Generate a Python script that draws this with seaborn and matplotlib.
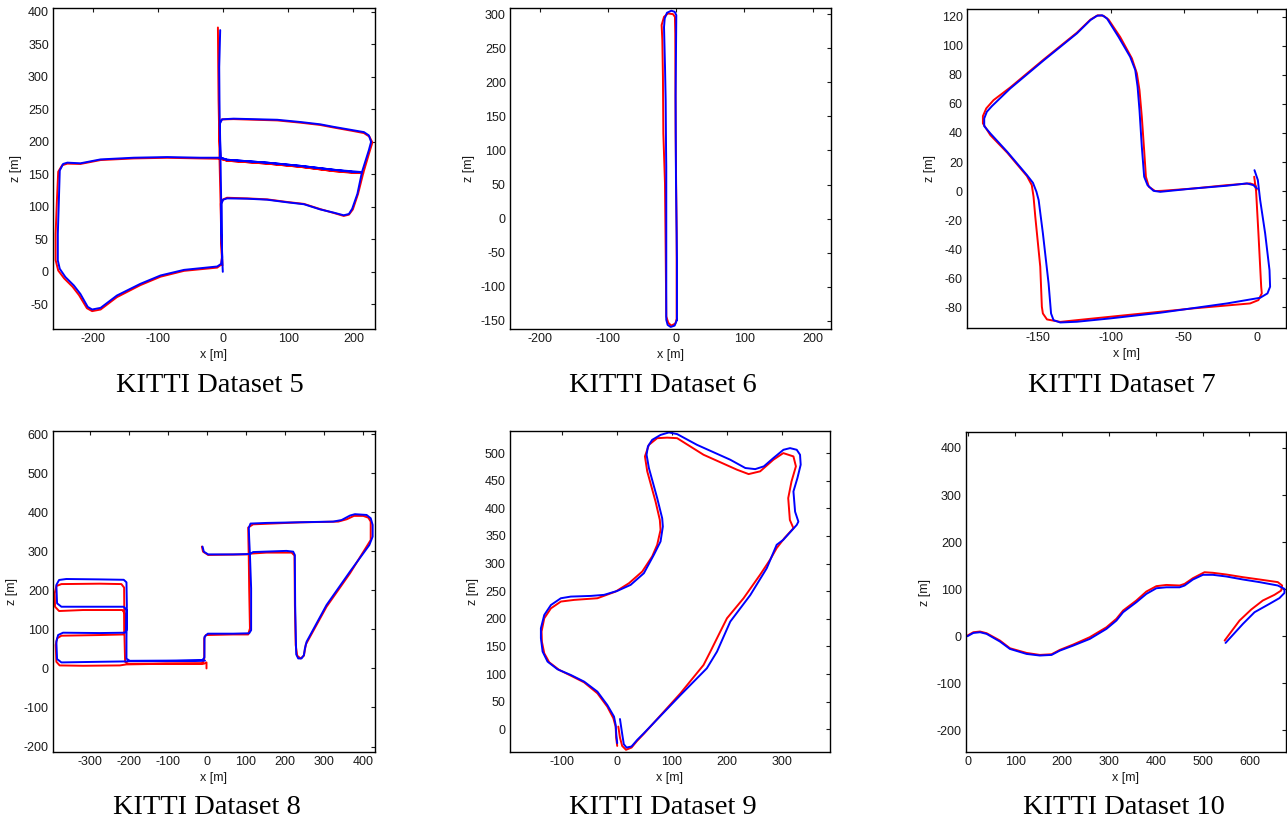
import pandas as pd
import matplotlib
matplotlib.use('Agg')
import matplotlib.pyplot as plt
import seaborn as sns

# ---- KITTI 05 ----
d5_blue_x = [-0.5, -1, -2.5, -2.5, 0, 6, 37, 67.5, 98, 124, 149, 170, 185, 193, 198, 206, 213, 200.5, 170, 119, 67.5, 6, -4, -35, -86, -137, -188, -219, -239, -245.5, -250.6, -252, -253.6, -253.6, -250.6, -242, -229, -219, -207.7, -201, -188, -163, -127, -96, -60, -9, -3, -1.5, -2.5, -3, -4, -5, -1.5, 16, 83, 119, 149, 170, 200.5, 216, 223.5, 227, 223.5, 213, 170, 119, 67.5, 6, -4, -5, -5.6, -6, -4.5]
d5_blue_z = [0, 12, 58.5, 105, 111, 113, 112.5, 111, 107, 104, 96, 91, 87, 89, 97, 120, 153.5, 153.5, 157, 163, 168, 172.5, 175.6, 175.6, 176.6, 175.6, 173, 167, 168, 166, 156, 110, 58.5, 17.5, 4.6, -8, -21, -34, -54, -58, -55.5, -36.5, -18.5, -5.6, 3, 8.2, 12.3, 22.6, 58.5, 110, 171.5, 228, 234.7, 235.7, 234, 230.5, 227, 223, 217.7, 215, 210, 200, 187, 153.5, 157, 163, 168, 172.5, 175.6, 212.6, 264, 315, 372]
d5_red_x = [-1, -2, -3, -3.5, 0, 6, 37, 67.5, 98, 124, 149, 170, 185, 193, 199, 207, 215, 200.5, 170, 119, 67.5, 6, -4, -35, -86, -137, -188, -219, -239, -247, -253, -255, -257, -257, -253, -244, -231, -221, -209, -201, -188, -163, -127, -96, -60, -9, -3, -2, -3, -4, -5.5, -6, -2, 16, 83, 119, 149, 170, 200.5, 216, 224.5, 229, 225, 215, 170, 119, 67.5, 6, -4, -6, -7, -7.5, -8]
d5_red_z = [10, 30, 60, 105, 111.5, 114, 113, 111.5, 107.5, 104.5, 96.5, 90.5, 86, 88, 96, 120, 152, 152, 155, 161.5, 166.5, 171, 174, 174.5, 175.5, 174.5, 172, 166, 166.5, 164, 154, 110, 58, 18, 2, -10, -23, -36, -56, -60.5, -58, -39, -20.5, -7.5, 1.5, 6.5, 11, 22, 58.5, 110, 171.5, 228, 234.5, 235, 233, 229.5, 226, 222, 216.5, 213.5, 208, 199, 186, 152, 155, 161.5, 166.5, 171, 174, 212, 264, 315, 376]

# ---- KITTI 06 ----
d6_blue_x = [1, 1, -0.5, -1, 0, -2.4, -7.3, -13.7, -17, -18, -16.5, -15.6, -15, -14.7, -14.7, -14.7, -12.7, -8.3, -2.4, 1]
d6_blue_z = [-148.5, -60, 60, 180, 298.5, 303.4, 305, 302, 293.6, 281, 220, 174, 100, 76, -46, -148.5, -156, -159, -157, -148.5]
d6_red_x = [0.5, 0.5, -1, -1.5, -2, -4.9, -12.2, -18, -21.5, -20.5, -19.6, -19, -16.6, -15.6, -14.7, -11.7, -7.3, -1.5, 0.5]
d6_red_z = [-148.5, -21.5, 125, 271.6, 296, 300, 301, 296, 284, 262, 208, 125, 52, -46, -143.6, -153, -157, -154, -148.5]

# ---- KITTI 07 ----
d7_blue_x = [-1.6, 0.7, 2.3, 5.7, 8.7, 9.1, 7.3, 2.3, -20.5, -66.2, -100.5, -123.3, -134.7, -139.3, -141, -142.7, -146.6, -149.5, -151, -153.4, -157.5, -171, -182.6, -186.8, -186.8, -185, -181.5, -169, -146, -123.3, -114, -109.6, -106, -102.7, -94.7, -86.8, -83.3, -81.7, -80.4, -78.8, -77.2, -74.9, -70.8, -66.2, -43.4, -20.5, -6.8, -2.3, 0]
d7_blue_z = [14.4, 7.6, -6.2, -29, -54.4, -65.8, -70.4, -73.4, -77.3, -83.7, -87.6, -89.9, -90.4, -88.8, -84.2, -63.5, -29, -6.2, -0.5, 5.7, 11, 27, 39.7, 44.7, 50, 54.6, 58.5, 70.6, 90, 108.5, 117.7, 120.6, 121, 118.8, 106, 92.4, 83.3, 71.8, 55.7, 30.5, 9.9, 4.1, 0.2, -0.5, 1.8, 3.7, 5.3, 4.1, 1.8]
d7_red_x = [-1.8, -0.5, 1.1, 3, 3.4, 1.1, -4.6, -43.4, -89, -123.3, -134.7, -143.8, -146.6, -147.3, -148.4, -151.8, -153, -154.2, -157.5, -171, -182.6, -187.7, -187.7, -185.4, -180.4, -169, -146, -123.3, -114, -109, -105, -101.6, -93.6, -85.6, -82.2, -80.4, -78.8, -77.2, -76, -74, -69.6, -65, -43.4, -20.5, -4.6, -1.1, 0]
d7_red_z = [9.9, 0, -29, -65.8, -70.4, -75, -77.3, -80.7, -85.3, -88.8, -90, -88.3, -84.2, -79.6, -52, -17.7, -3.9, 4.1, 10.3, 26.4, 38.5, 46.6, 51.6, 56.9, 62.6, 71.3, 90.6, 109, 118, 121, 120.6, 118, 106, 91.3, 81, 69.5, 51, 28, 9.9, 3, 0, 0.2, 1.8, 4.1, 5.3, 4.1, 1]

# ---- KITTI 08 ----
d8_blue_x = [-5, -103.6, -197.5, -206, -274.5, -372.5, -383.6, -385.4, -381, -368.3, -274.5, -210.5, -206, -206, -213, -300, -372.5, -383.6, -385.4, -378.5, -360, -274.5, -213, -206, -205, -206, -206, -197.5, -103.6, -12, -6.5, -6.3, 2, 67, 108, 113, 113, 110, 108, 107, 111.5, 152.5, 323, 344.5, 366, 378.7, 408.5, 419, 424, 424, 415.5, 366, 306, 255, 250.6, 248, 242, 233.5, 228.4, 227.5, 225.7, 224.8, 220.6, 203.5, 118, 110, 67, 3, -8, -11.4]
d8_blue_z = [20, 18.8, 18.8, 18, 17, 15.4, 24, 68.4, 85.5, 91.5, 90.6, 91.5, 98, 149.6, 158, 158, 158, 166.7, 213.7, 226.5, 229, 228, 227, 220.5, 162, 77, 25, 19.5, 20, 21, 28, 81, 89, 89, 90, 98, 205, 290, 333, 360, 371, 372.6, 376, 380, 391.5, 395, 393, 384.6, 367.5, 337.6, 316, 248, 162.4, 68.4, 51, 34, 25.6, 25.6, 36, 77, 162, 290.6, 299, 301, 298, 293, 292, 292, 299, 312]
d8_red_x = [-1.2, -1.2, -8, -103.6, -206, -223, -317, -377, -385.4, -387, -383.6, -372.5, -274.5, -214.6, -210.5, -210.5, -216.5, -317, -378.5, -388.8, -389.7, -385.4, -372.5, -274.5, -219, -212, -211, -209.5, -202, -103.6, -12, -7, -7, -2.9, 67, 105.5, 110, 108, 107, 106, 105.5, 118, 238, 336, 357.6, 376, 400, 413, 419, 419, 408.5, 366, 306, 253, 248, 239.6, 231, 227, 225, 224, 216.6, 152.5, 111.5, 101, 67, 3, -10, -13]
d8_red_z = [0, 15.4, 12, 12, 10.3, 7.7, 6.8, 7.7, 17, 60, 77, 83.8, 85.5, 87, 94, 141, 149.6, 149.6, 147, 158, 192, 211, 216, 217, 216, 207, 77, 17, 12, 12.5, 13, 24, 77, 85.5, 87, 87, 102.6, 205, 282, 330, 360.7, 369, 374, 376, 382, 390.6, 390.6, 386, 376, 329, 312, 243.6, 158, 61.5, 32.5, 25.6, 32.5, 60, 162, 289, 296.6, 296.6, 294, 292, 291.5, 290.6, 299, 312]

# ---- KITTI 09 ----
d9_blue_x = [6, 10.3, 13, 18, 27, 37.5, 49.5, 116, 164, 182.5, 206.6, 243, 273, 291, 303, 327.5, 330.5, 324.5, 321.5, 328.7, 334.7, 333.5, 327.5, 315.4, 303.3, 285, 267.7, 252, 234, 206.6, 146, 110, 95, 80, 64.6, 56.8, 54.4, 58.6, 73.7, 82.8, 84, 79.8, 67.7, 49.5, 25.4, 1.2, -23, -47, -83.4, -101.5, -119.6, -131.7, -137.8, -137.8, -134.7, -125.7, -107.6, -83.4, -59.2, -35, -17, -4.8, -1.8, -0.6, 1]
d9_blue_z = [18.7, -10, -27, -33, -31, -19, -7, 62, 110.5, 140.7, 195, 243, 291.7, 334, 343, 370, 376, 394, 430.6, 454.7, 479, 497, 506, 509, 506, 491, 476, 471, 473, 488, 515, 534.4, 537.4, 533, 524, 512, 497, 473, 418.5, 382, 367, 340, 316, 282.6, 261.5, 250.6, 243.4, 241.5, 240.3, 237.3, 225, 207, 183, 165, 140.7, 122.6, 108.7, 98.4, 86.4, 68.2, 44, 23, 7.9, -10, -25]
d9_red_x = [3, 6, 10, 17, 27, 37, 49.5, 116, 158, 170.4, 188.5, 200.6, 230.8, 261, 279, 291, 305, 321.5, 315, 312, 318, 326, 321.5, 303, 285, 261, 240, 218.7, 158, 110, 91.8, 73.7, 58.6, 51.4, 55.6, 70.7, 78.5, 79.8, 73.7, 64.6, 46.5, 22.4, -1.8, -35, -77.3, -101.5, -119.6, -131.7, -136.6, -136, -131.7, -122.7, -104.5, -83.4, -59.2, -35, -17, -6, -1.8, -1, 1]
d9_red_z = [5, -15, -30, -37, -33, -21, -8, 65.2, 116.5, 140.7, 177, 201, 237.3, 280, 307, 328, 346, 364, 379, 418.5, 448.7, 476, 494, 500, 488, 467, 462, 470, 497, 527, 528, 527, 515, 494, 467, 412.4, 379, 361, 334, 313, 285.6, 264.5, 249.4, 237.3, 234.3, 231.3, 219, 201, 177, 158.8, 137.7, 121.4, 107.5, 97.2, 85, 65.2, 41, 20, 4.8, -15, -30]

# ---- KITTI 10 ----
d10_blue_x = [-2, 10.7, 25, 39, 67.5, 88.8, 124.3, 152.7, 177.6, 195.3, 223.7, 259.2, 294.7, 316, 330.3, 358.7, 380, 401.3, 422.6, 451, 461.6, 479.4, 500.7, 522, 550.4, 586, 621.4, 660.5, 674.7, 674.7, 664, 642.7, 610.8, 586, 549]
d10_blue_z = [0, 7, 8.5, 5, -11.3, -27, -37.6, -41, -39.7, -30.5, -19.9, -5.7, 15.6, 33.3, 51, 72.3, 90, 102, 104, 104, 107.8, 120.6, 130.5, 130.5, 127, 120.6, 115, 107.8, 100.7, 92, 81, 68.8, 51, 26.2, -14.2]
d10_red_x = [-2, 10.7, 25, 39, 67.5, 88.8, 124.3, 152.7, 177.6, 195.3, 223.7, 259.2, 294.7, 316, 330.3, 358.7, 380, 401.3, 422.6, 451, 461.6, 479.4, 504, 522, 550.4, 586, 621.4, 660.5, 669.7, 667.6, 653.4, 628.5, 603.7, 578.8, 547]
d10_red_z = [1.4, 8.5, 10, 6.4, -9.2, -25.5, -35.5, -39.7, -38.3, -29, -17.7, -2, 19, 37, 54.6, 76, 95, 106.4, 109, 107.8, 111.3, 123.4, 136, 134.8, 131.2, 125.5, 120.6, 115, 107.8, 97, 88, 75.9, 56.7, 33.3, -9.2]

titles = ['KITTI Dataset 5', 'KITTI Dataset 6', 'KITTI Dataset 7',
          'KITTI Dataset 8', 'KITTI Dataset 9', 'KITTI Dataset 10']
series = [(d5_red_x, d5_red_z, d5_blue_x, d5_blue_z),
          (d6_red_x, d6_red_z, d6_blue_x, d6_blue_z),
          (d7_red_x, d7_red_z, d7_blue_x, d7_blue_z),
          (d8_red_x, d8_red_z, d8_blue_x, d8_blue_z),
          (d9_red_x, d9_red_z, d9_blue_x, d9_blue_z),
          (d10_red_x, d10_red_z, d10_blue_x, d10_blue_z)]
xlims = [(-261, 233), (-244, 227), (-198.6, 20), (-394, 430), (-194, 388), (-5, 678)]
ylims = [(-88, 406), (-162, 309), (-94.2, 125.3), (-214, 608), (-41, 540), (-246, 434)]
xticks = [range(-200, 201, 100), range(-200, 201, 100), range(-150, 1, 50),
          range(-300, 401, 100), range(-100, 301, 100), range(0, 601, 100)]
yticks = [range(-50, 401, 50), range(-150, 301, 50), range(-80, 121, 20),
          range(-200, 601, 100), range(0, 501, 50), range(-200, 401, 100)]

sns.set_style('white')
plt.rcParams['font.family'] = ['Liberation Sans', 'DejaVu Sans']
plt.rcParams['axes.unicode_minus'] = False

fig = plt.figure(figsize=(12.87, 8.26), dpi=100)
W, H = 1287.0, 826.0
# axes boxes in pixels: left, top, right, bottom
boxes = [(53, 8, 375, 329), (510, 8, 831, 329), (967, 9, 1286, 328),
         (53, 431, 375, 752), (510, 431, 830, 752), (966, 432, 1286, 752)]
cap_x = [210, 663, 1122, 207, 663, 1124]

for i in range(6):
    l, t, r, b = boxes[i]
    ax = fig.add_axes([l / W, 1 - b / H, (r - l) / W, (b - t) / H])
    rx, rz, bx, bz = series[i]
    df = pd.concat([
        pd.DataFrame({'x': rx, 'z': rz, 'run': 'red'}),
        pd.DataFrame({'x': bx, 'z': bz, 'run': 'blue'}),
    ], ignore_index=True)
    sns.lineplot(data=df, x='x', y='z', hue='run', hue_order=['red', 'blue'],
                 palette={'red': '#ff0000', 'blue': '#0000ff'},
                 sort=False, estimator=None, legend=False, linewidth=1.4, ax=ax)
    ax.set_xlim(*xlims[i])
    ax.set_ylim(*ylims[i])
    ax.set_xticks(list(xticks[i]))
    ax.set_yticks(list(yticks[i]))
    ax.tick_params(direction='in', top=True, right=True, length=3, width=0.8,
                   labelsize=9, pad=3, colors='#1a1a1a')
    for s in ax.spines.values():
        s.set_color('black')
        s.set_linewidth(1.0)
    ax.set_xlabel('x [m]', fontsize=9, labelpad=3, color='#1a1a1a')
    ax.set_ylabel('z [m]', fontsize=9, labelpad=4, color='#1a1a1a')
    cy = 386 if i < 3 else 808
    fig.text(cap_x[i] / W, 1 - cy / H, titles[i], ha='center', va='center',
             fontsize=20.5, color='black', family=['Liberation Serif', 'DejaVu Serif'])

fig.savefig('out.png', dpi=100)
